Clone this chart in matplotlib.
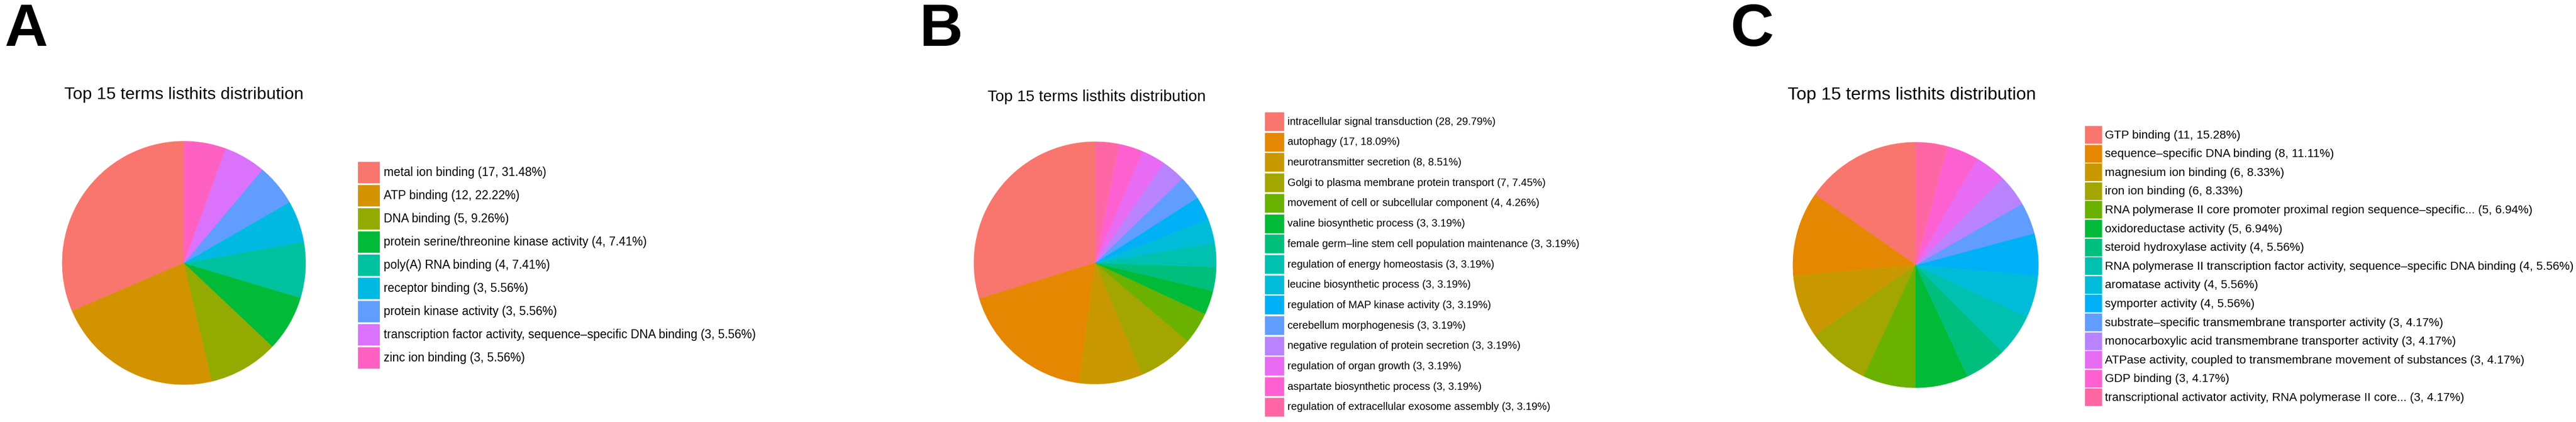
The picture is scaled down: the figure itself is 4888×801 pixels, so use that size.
"""Three GO-term pie charts (top 15 terms, listhits distribution), panels A-C."""
import matplotlib
matplotlib.use("Agg")
import matplotlib.pyplot as plt

W, H, DPI = 4888, 801, 100

plt.rcParams["font.family"] = ["Liberation Sans", "DejaVu Sans"]

# --- data -------------------------------------------------------------------
terms_a = [
    "metal ion binding",
    "ATP binding",
    "DNA binding",
    "protein serine/threonine kinase activity",
    "poly(A) RNA binding",
    "receptor binding",
    "protein kinase activity",
    "transcription factor activity, sequence\u2013specific DNA binding",
    "zinc ion binding",
]
counts_a = [17, 12, 5, 4, 4, 3, 3, 3, 3]

terms_b = [
    "intracellular signal transduction",
    "autophagy",
    "neurotransmitter secretion",
    "Golgi to plasma membrane protein transport",
    "movement of cell or subcellular component",
    "valine biosynthetic process",
    "female germ\u2013line stem cell population maintenance",
    "regulation of energy homeostasis",
    "leucine biosynthetic process",
    "regulation of MAP kinase activity",
    "cerebellum morphogenesis",
    "negative regulation of protein secretion",
    "regulation of organ growth",
    "aspartate biosynthetic process",
    "regulation of extracellular exosome assembly",
]
counts_b = [28, 17, 8, 7, 4, 3, 3, 3, 3, 3, 3, 3, 3, 3, 3]

terms_c = [
    "GTP binding",
    "sequence\u2013specific DNA binding",
    "magnesium ion binding",
    "iron ion binding",
    "RNA polymerase II core promoter proximal region sequence\u2013specific...",
    "oxidoreductase activity",
    "steroid hydroxylase activity",
    "RNA polymerase II transcription factor activity, sequence\u2013specific DNA binding",
    "aromatase activity",
    "symporter activity",
    "substrate\u2013specific transmembrane transporter activity",
    "monocarboxylic acid transmembrane transporter activity",
    "ATPase activity, coupled to transmembrane movement of substances",
    "GDP binding",
    "transcriptional activator activity, RNA polymerase II core...",
]
counts_c = [11, 8, 6, 6, 5, 5, 4, 4, 4, 4, 3, 3, 3, 3, 3]

# ggplot2 default hue palettes
HUE_9 = ["#F8766D", "#D39200", "#93AA00", "#00BA38", "#00C19F",
         "#00B9E3", "#619CFF", "#DB72FB", "#FF61C3"]
HUE_15 = ["#F8766D", "#E58700", "#C99800", "#A3A500", "#6BB100",
          "#00BA38", "#00BF7D", "#00C0AF", "#00BCD8", "#00B0F6",
          "#619CFF", "#B983FF", "#E76BF3", "#FD61D1", "#FF67A4"]

# --- layout (pixels from top-left) -----------------------------------------
PANELS = [
    dict(letter="A", letter_x=8, terms=terms_a, counts=counts_a, colors=HUE_9,
         title_x=122, title_y=188, title_fs=23.4,
         pie_cx=349, pie_cy=499, pie_r=231,
         leg_x=679, leg_y=307, leg_fs=16.4, key_w=41, key_h=40, pitch=44,
         text_gap=8),
    dict(letter="B", letter_x=1744, terms=terms_b, counts=counts_b, colors=HUE_15,
         title_x=1874, title_y=192, title_fs=21.3,
         pie_cx=2078, pie_cy=499, pie_r=230,
         leg_x=2400, leg_y=213, leg_fs=14.4, key_w=36, key_h=35, pitch=38.7,
         text_gap=7),
    dict(letter="C", letter_x=3283, terms=terms_c, counts=counts_c, colors=HUE_15,
         title_x=3392, title_y=189, title_fs=24.4,
         pie_cx=3635, pie_cy=503, pie_r=233,
         leg_x=3956, leg_y=239, leg_fs=16.1, key_w=32, key_h=33, pitch=35.6,
         text_gap=6),
]


def fx(x):
    return x / W


def fy(y):
    return 1 - y / H


def draw_panel(fig, p):
    total = sum(p["counts"])
    labels = [f"{t} ({c}, {100 * c / total:.2f}%)"
              for t, c in zip(p["terms"], p["counts"])]

    r = p["pie_r"]
    ax = fig.add_axes([fx(p["pie_cx"] - r), fy(p["pie_cy"] + r),
                       2 * r / W, 2 * r / H])
    wedges, _ = ax.pie(p["counts"], colors=p["colors"], startangle=90,
                       counterclock=True, radius=1.0,
                       wedgeprops=dict(linewidth=0.4))
    for w, col in zip(wedges, p["colors"]):
        w.set_edgecolor(col)   # hide seams between slices
    ax.set_xlim(-1, 1)
    ax.set_ylim(-1, 1)
    ax.set_aspect("equal")
    ax.axis("off")

    # legend: mpl draws a patch key of height fs*(0.65*hh + 0.245)
    fs_px = p["leg_fs"] * DPI / 72
    hh = (p["key_h"] / fs_px - 0.245) / 0.65
    fig.legend(wedges, labels, loc="upper left",
               bbox_to_anchor=(fx(p["leg_x"]), fy(p["leg_y"])),
               bbox_transform=fig.transFigure,
               frameon=False, borderpad=0, borderaxespad=0,
               fontsize=p["leg_fs"],
               handlelength=p["key_w"] / fs_px,
               handleheight=hh,
               labelspacing=(p["pitch"] - p["key_h"]) / fs_px,
               handletextpad=p["text_gap"] / fs_px)

    fig.text(fx(p["title_x"]), fy(p["title_y"]),
             "Top 15 terms listhits distribution",
             fontsize=p["title_fs"], color="black", ha="left", va="baseline")

    fig.text(fx(p["letter_x"]), fy(87), p["letter"],
             fontsize=82, fontweight="bold", color="black",
             ha="left", va="baseline")


fig = plt.figure(figsize=(W / DPI, H / DPI), dpi=DPI)
fig.patch.set_facecolor("white")
for panel in PANELS:
    draw_panel(fig, panel)

fig.savefig("out.png", dpi=DPI, facecolor="white")
